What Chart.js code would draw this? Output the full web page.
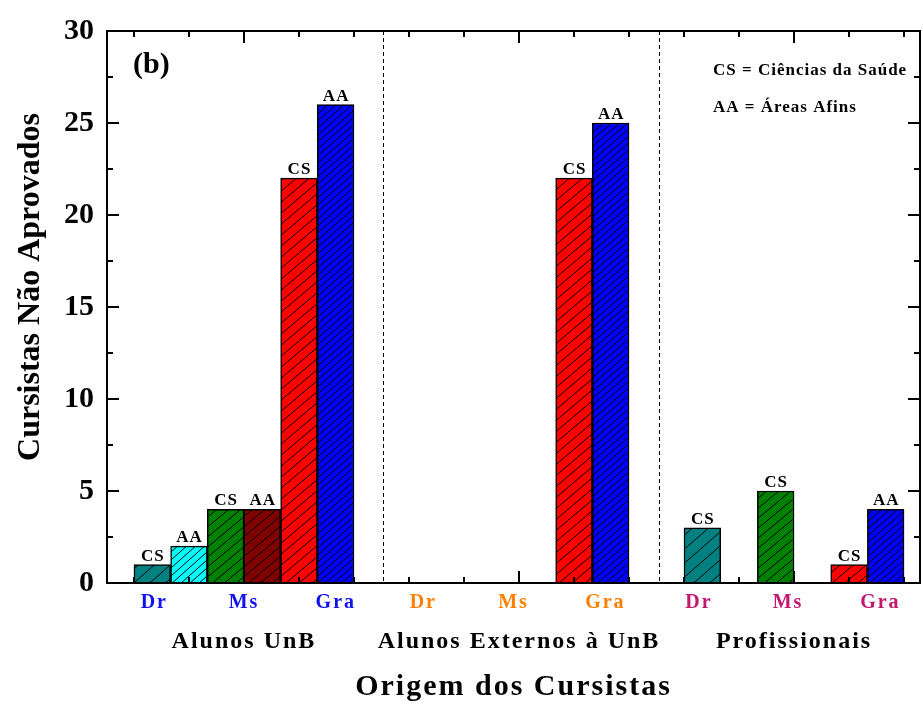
<!DOCTYPE html>
<html><head><meta charset="utf-8">
<script src="https://cdn.jsdelivr.net/npm/chart.js@4/dist/chart.umd.min.js"></script>
<style>html,body{margin:0;padding:0;background:#fff}#wrap{width:923px;height:705px}</style>
</head><body><div id="wrap"><canvas id="c" width="923" height="705"></canvas></div>
<script>
// ---------- data ----------
const groupNames = ['Alunos UnB', 'Alunos Externos à UnB', 'Profissionais'];
const levelNames = ['Dr', 'Ms', 'Gra'];
const seriesNames = ['CS', 'AA'];
// values per group in order [Dr, Ms, Gra]; null = no bar
const csUnB  = [1, 4, 22];
const aaUnB  = [2, 4, 26];
const csExt  = [null, null, 22];
const aaExt  = [null, null, 25];
const csProf = [3, 5, 1];
const aaProf = [null, null, 4];
const yTickStep = 5;
const legendLines = ['CS = Ciências da Saúde', 'AA = Áreas Afins'];
const panelLabel = '(b)';
const yTitle = 'Cursistas Não Aprovados';
const xTitle = 'Origem dos Cursistas';

// ---------- layout / style ----------
const FONT = "'Liberation Serif', 'Times New Roman', serif";
const levelLabelPos = [0.37, 2.0, 3.67, 5.26, 6.9, 8.57, 10.27, 11.89, 13.57];
const groupLabelPos = [2, 7, 12];
const separators = [4.53, 9.55];
const majorX = [2, 7, 12];
const levelColors = ['#1212f0', '#ff8000', '#c2186e'];
const fills = [['#008080', '#00ffff'], ['#008000', '#800000'], ['#ff0000', '#0000ff']];
const hatchStep = [[16, 9], [12, 12], [13, 8]];

function hatch(color, step) {
  const w = step, h = Math.round(step * 0.85);
  const c = document.createElement('canvas'); c.width = w; c.height = h;
  const g = c.getContext('2d');
  g.fillStyle = color; g.fillRect(0, 0, w, h);
  g.strokeStyle = '#000'; g.lineWidth = 1;
  for (const x0 of [-w, 0, w]) { g.beginPath(); g.moveTo(x0, h); g.lineTo(x0 + w, 0); g.stroke(); }
  return g.createPattern(c, 'repeat');
}

const table = [[csUnB, aaUnB], [csExt, aaExt], [csProf, aaProf]];
const bars = [];
table.forEach((pair, g) => pair.forEach((vals, t) => vals.forEach((v, l) => {
  if (v == null) return;
  bars.push({ x: 5 * g + 4 / 3 * l + 2 / 3 * t + 1 / 3, y: v, l, t });
})));
bars.sort((a, b) => a.x - b.x);

const decor = {
  id: 'decor',
  beforeDraw(chart) { chart.ctx.letterSpacing = '0px'; },
  afterDatasetsDraw(chart) {
    const ctx = chart.ctx, a = chart.chartArea, xs = chart.scales.x, ys = chart.scales.y;
    ctx.save();
    ctx.strokeStyle = '#000'; ctx.lineWidth = 1; ctx.setLineDash([4, 3]);
    separators.forEach(v => {
      const px = Math.round(xs.getPixelForValue(v)) + 0.5;
      ctx.beginPath(); ctx.moveTo(px, a.top); ctx.lineTo(px, a.bottom); ctx.stroke();
    });
    ctx.setLineDash([]);
    ctx.lineWidth = 2;
    ctx.beginPath(); ctx.moveTo(a.left, a.top); ctx.lineTo(a.right, a.top); ctx.lineTo(a.right, a.bottom); ctx.stroke();
    for (let v = 0; v <= 14; v++) {
      const len = majorX.includes(v) ? 12 : 6;
      const px = Math.round(xs.getPixelForValue(v));
      ctx.beginPath();
      ctx.moveTo(px, a.bottom); ctx.lineTo(px, a.bottom - len);
      ctx.moveTo(px, a.top); ctx.lineTo(px, a.top + len);
      ctx.stroke();
    }
    for (let v = 0; v <= 30; v += yTickStep / 2) {
      const len = v % yTickStep === 0 ? 12 : 6;
      const py = Math.round(ys.getPixelForValue(v));
      ctx.beginPath();
      ctx.moveTo(a.left, py); ctx.lineTo(a.left + len, py);
      ctx.moveTo(a.right, py); ctx.lineTo(a.right - len, py);
      ctx.stroke();
    }
    ctx.fillStyle = '#000';
    ctx.font = 'bold 17px ' + FONT;
    ctx.letterSpacing = '1px';
    ctx.textAlign = 'center'; ctx.textBaseline = 'alphabetic';
    chart.getDatasetMeta(0).data.forEach((el, i) => {
      ctx.fillText(seriesNames[bars[i].t], el.x + 0.5, el.y - 4);
    });
    ctx.textAlign = 'left'; ctx.textBaseline = 'middle';
    legendLines.forEach((s, i) => ctx.fillText(s, 713, 71 + i * 37));
    ctx.letterSpacing = '0px';
    ctx.font = 'bold 30px ' + FONT;
    ctx.fillText(panelLabel, 133, 65);
    ctx.font = 'bold 32px ' + FONT;
    ctx.textAlign = 'center';
    ctx.translate(31, 287); ctx.rotate(-Math.PI / 2);
    ctx.fillText(yTitle, 0, 0);
    ctx.restore();
    ctx.letterSpacing = '2px';
  },
  afterDraw(chart) { chart.ctx.letterSpacing = '0px'; }
};

new Chart(document.getElementById('c'), {
  type: 'bar',
  data: {
    datasets: [{
      data: bars.map(b => ({ x: b.x, y: b.y })),
      backgroundColor: bars.map(b => hatch(fills[b.l][b.t], hatchStep[b.l][b.t])),
      borderColor: '#000',
      borderWidth: 1.5,
      barPercentage: 1,
      categoryPercentage: 1
    }]
  },
  options: {
    responsive: false,
    animation: false,
    devicePixelRatio: 1,
    layout: { padding: { top: 28, right: 3, bottom: 0, left: 0 } },
    plugins: { legend: { display: false }, tooltip: { enabled: false } },
    scales: {
      x: {
        type: 'linear', position: 'bottom', min: -0.49, max: 14.29, offset: false, bounds: 'data',
        afterBuildTicks: s => { s.ticks = levelLabelPos.map(v => ({ value: v })); },
        afterFit: s => { s.height = 40; },
        grid: { display: false, drawTicks: false, z: 1 },
        border: { display: true, color: '#000', width: 2, z: 1 },
        ticks: {
          z: 1, autoSkip: false, maxRotation: 0, minRotation: 0, padding: 8,
          font: { family: FONT, size: 20, weight: 'bold' },
          color: c => levelColors[Math.floor(c.index / 3)],
          callback: (v, i) => levelNames[i % 3]
        }
      },
      xg: {
        type: 'linear', position: 'bottom', min: -0.49, max: 14.29, offset: false, bounds: 'data',
        afterBuildTicks: s => { s.ticks = groupLabelPos.map(v => ({ value: v })); },
        afterFit: s => { s.height = 82; },
        grid: { display: false, drawTicks: false, z: 1 },
        border: { display: false, z: 1 },
        ticks: {
          z: 1, autoSkip: false, maxRotation: 0, minRotation: 0, padding: 4,
          font: { family: FONT, size: 24, weight: 'bold' }, color: '#000',
          callback: (v, i) => groupNames[i]
        },
        title: { display: true, text: xTitle, color: '#000', padding: { top: 0, bottom: 0 },
                 font: { family: FONT, size: 30, weight: 'bold' } }
      },
      y: {
        min: 0, max: 30,
        afterFit: s => { s.width = 107; },
        grid: { display: false, drawTicks: false },
        border: { display: true, color: '#000', width: 2 },
        ticks: { stepSize: yTickStep, padding: 13, color: '#000',
                 font: { family: FONT, size: 30, weight: 'bold' } }
      }
    }
  },
  plugins: [decor]
});
</script></body></html>
